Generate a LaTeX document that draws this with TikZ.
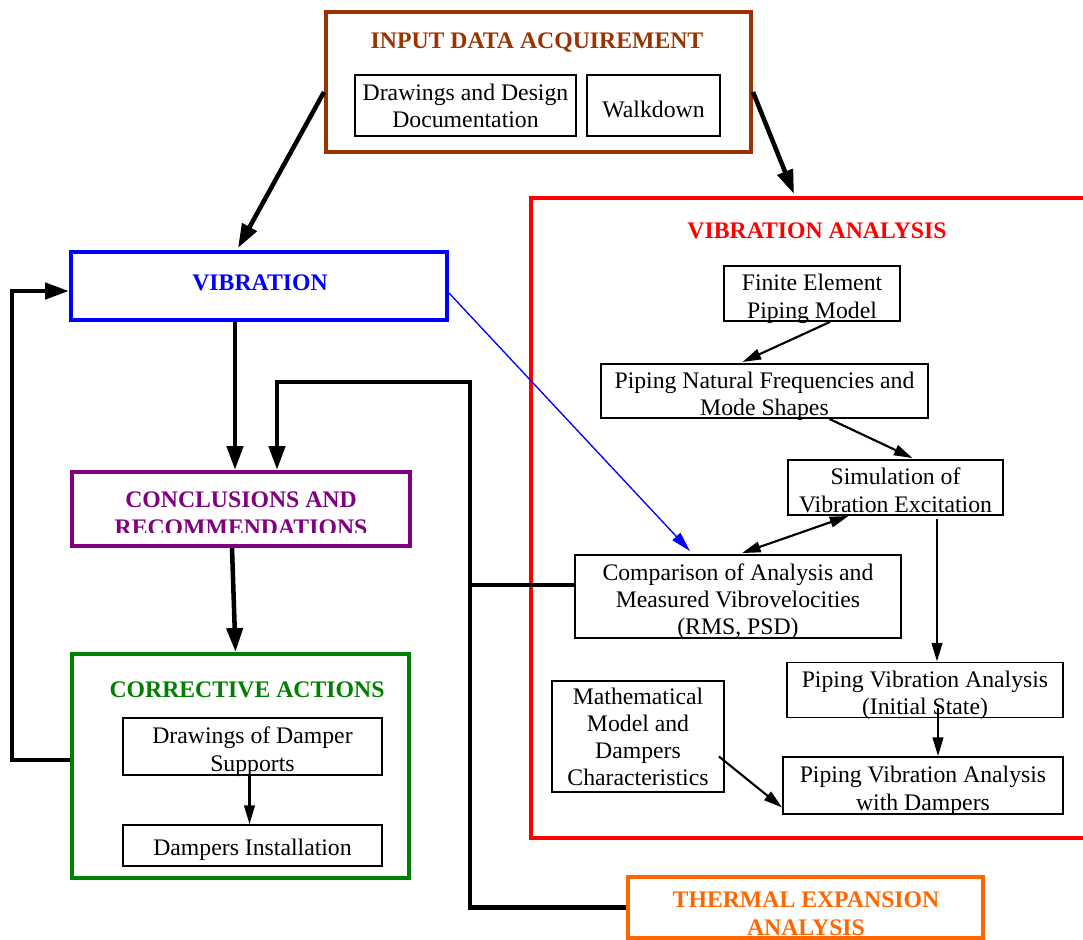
\documentclass[tikz,border=0pt]{standalone}
\usepackage{fontspec}
\setmainfont{Liberation Serif}
\usetikzlibrary{arrows.meta,calc}
\definecolor{cbrown}{RGB}{153,51,0}
\definecolor{cblue}{RGB}{0,0,255}
\definecolor{cpurple}{RGB}{128,0,128}
\definecolor{cgreen}{RGB}{0,128,0}
\definecolor{corange}{RGB}{255,102,0}
\definecolor{cred}{RGB}{255,0,0}
\newcommand{\dnlines}[1]{\raisebox{0pt}[\dimexpr\height+4.2pt\relax][\dimexpr\depth-4.2pt\relax]{\begin{tabular}{@{}c@{}}#1\end{tabular}}}
\begin{document}
\begin{tikzpicture}[x=0.75pt,y=-0.75pt,
  txt/.style={font=\fontsize{17.8}{20.3}\selectfont, align=center},
  ttl/.style={font=\fontsize{17.8}{21}\selectfont\bfseries, align=center, inner sep=0pt},
  frame/.style={draw, line width=3pt, inner sep=0pt},
  sub/.style={draw, line width=1.4pt, inner sep=0pt, txt},
  subone/.style={sub, execute at begin node={\rule{0pt}{18.5pt}}},
  sz/.style 2 args={minimum width=#1*0.75pt, minimum height=#2*0.75pt},
  thickc/.style={line width=3.4pt, -{Triangle[length=18pt,width=12pt]}},
  thickl/.style={line width=3.4pt},
  thinc/.style={line width=1.6pt, -{Triangle[length=14pt,width=8pt]}},
  thind/.style={line width=1.6pt, {Triangle[length=14pt,width=8pt]}-{Triangle[length=14pt,width=8pt]}},
  bluec/.style={line width=1pt, cblue, -{Triangle[length=15pt,width=8pt]}}
]
\useasboundingbox (0,0) rectangle (1083,940);

% Input data acquirement
\node[frame, draw=cbrown, sz={425}{140}] (inp) at (538.5,82) {};
\node[ttl, text=cbrown] (inpt) at (537,43) {INPUT DATA ACQUIREMENT};
\node[sub, sz={221}{61}] (ddd) at (465.5,105.5) {Drawings and Design\\Documentation};
\node[subone, sz={133}{61}] (walk) at (653.5,105.5) {Walkdown};

% Vibration
\node[frame, draw=cblue, sz={376}{68}] (vib) at (259,286) {};
\node[ttl, text=cblue] (vibt) at (260,283) {VIBRATION};

% Conclusions
\begin{scope}
\clip (74,474) rectangle (408,532);
\node[ttl, text=cpurple] (conct) at (241,513.5) {CONCLUSIONS AND\\RECOMMENDATIONS};
\end{scope}
\node[frame, draw=cpurple, sz={338}{74}] (conc) at (241,509) {};

% Corrective actions
\node[frame, draw=cgreen, sz={337}{224}] (corr) at (240.5,766) {};
\node[ttl, text=cgreen] (corrt) at (247,690) {CORRECTIVE ACTIONS};
\node[sub, sz={259}{57}] (dds) at (252.5,746.5) {\dnlines{Drawings of Damper\\Supports}};
\node[subone, sz={259}{41}] (dins) at (252.5,845.5) {Dampers Installation};

% Thermal expansion
\begin{scope}
\clip (630,879) rectangle (981,935);
\node[ttl, text=corange] (thert) at (806,914) {THERMAL EXPANSION\\ANALYSIS};
\end{scope}
\node[frame, draw=corange, sz={355}{61}] (ther) at (805.5,907.5) {};

% Vibration analysis
\node[frame, draw=cred, sz={579}{640}] (va) at (820.5,518) {};
\node[ttl, text=cred] (vat) at (817,231) {VIBRATION ANALYSIS};
\node[sub, sz={176}{55}] (fe) at (812,293.5) {\dnlines{Finite Element\\Piping Model}};
\node[sub, sz={327}{54}] (nf) at (764.5,391) {\dnlines{Piping Natural Frequencies and\\Mode Shapes}};
\node[sub, sz={215}{55}] (sim) at (895.5,487.5) {\dnlines{Simulation of\\Vibration Excitation}};
\node[sub, sz={326}{83}] (cmp) at (738,596.5) {\dnlines{Comparison of Analysis and\\Measured Vibrovelocities\\(RMS, PSD)}};
\node[sub, sz={276}{55}] (pvi) at (925,690) {\dnlines{Piping Vibration Analysis\\(Initial State)}};
\node[sub, sz={280}{57}] (pvd) at (923,785.5) {\dnlines{Piping Vibration Analysis\\with Dampers}};
\node[sub, sz={172}{111}] (math) at (638,736.5) {Mathematical\\Model and\\Dampers\\Characteristics};

% junction coordinates
\coordinate (jn) at (470,585);
\coordinate (jt) at (470,382);

% connectors
\draw[thickc] ($(inp.west)+(0,10)$) -- ($(vib.north)+(-21,-2)$);
\draw[thickc] ($(inp.east)+(0,10)$) -- ($(va.north west)+(265,-2)$);
\draw[thickc] ($(vib.south)+(-24,0)$) coordinate (vs) -- (vs |- conc.north);
\draw[thickc] (cmp.west |- jn) -- (jn) -- (jt) -| ($(conc.north)+(36,0)$);
\draw[thickl] (jn) |- (ther.west);
\draw[thickc] ($(conc.south)+(-9,0)$) -- ($(corr.north)+(-5,0)$);
\draw[thickc] ($(corr.west)+(0,-6)$) -- ++(-58,0) |- ($(vib.west)+(0,5)$);
\draw[bluec] ($(vib.east)+(0,7)$) -- ($(cmp.north)+(-48,-3)$);
\draw[thinc] ($(fe.south)+(18,0)$) -- ($(nf.north)+(-22,-1)$);
\draw[thinc] ($(nf.south)+(65,0)$) -- ($(sim.north)+(17,-1)$);
\draw[thind] ($(sim.south)+(-47,0)$) -- ($(cmp.north)+(4,-1)$);
\draw[thinc] ($(sim.south)+(41.5,3)$) coordinate (ss) -- (ss |- pvi.north);
\draw[thinc] ($(pvi.south)+(13,-10)$) coordinate (ps) -- (ps |- pvd.north);
\draw[thinc] ($(math.east)+(-6,20)$) -- ($(pvd.west)+(0,22)$);
\draw[thinc] ($(dds.south)+(-3,0)$) coordinate (dsx) -- (dsx |- dins.north);
\end{tikzpicture}
\end{document}
